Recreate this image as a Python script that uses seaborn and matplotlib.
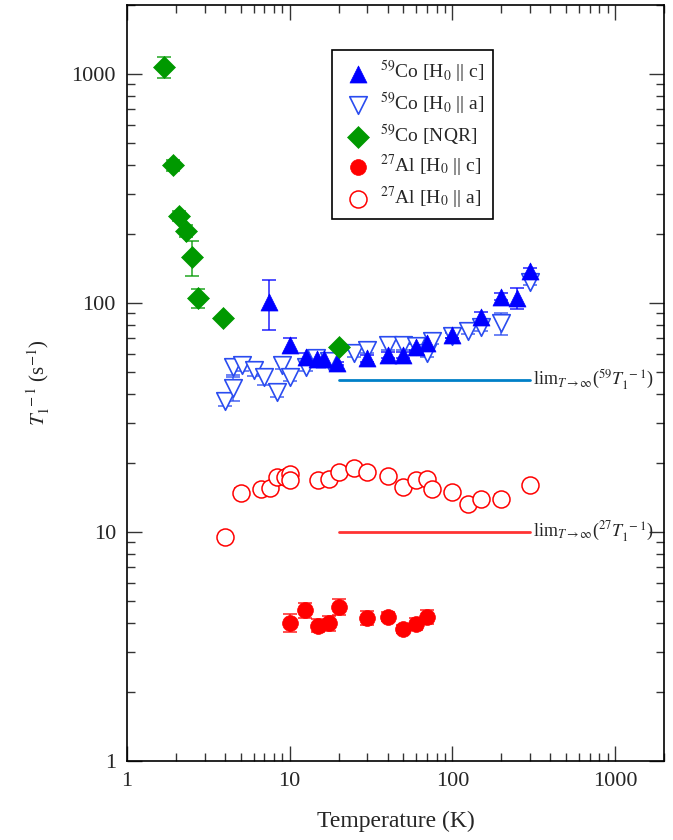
import seaborn as sns
import matplotlib.pyplot as plt
import matplotlib.ticker as mticker
import numpy as np

# 59Co NQR
nqr_T = [1.7, 1.93, 2.1, 2.3, 2.5, 2.75, 3.9, 20]
nqr_R = [1070, 400, 240, 207, 159, 105, 86, 64]
nqr_err = [110, 22, 12, 12, 28, 10, 0, 0]

# 59Co H0 || c
coc_T = [7.5, 10, 12.6, 14.7, 16.2, 19.6, 30, 40, 50, 60, 70, 100, 150, 200, 250, 300]
coc_R = [101, 65.6, 58.3, 56.8, 57, 54.5, 57.3, 59.3, 59.3, 64.4, 66.7, 72.5, 86.6, 106.6, 104.8, 138]
coc_err = [25, 4.5, 2, 1, 1, 1, 2, 2, 2, 2, 2, 2, 5, 4, 11, 4]

# 59Co H0 || a
coa_T = [4.0, 4.5, 4.5, 5.1, 6, 7, 8.3, 9, 10, 12.6, 14.6, 17.5, 25, 30, 40, 50, 60, 70, 75,
         100, 125, 150, 200, 300]
coa_R = [37.4, 42.4, 52.4, 53.6, 51, 47.7, 41, 53.6, 47.7, 52.7, 57.3, 56, 60.3, 62.3, 65.6,
         65.6, 64.6, 60.3, 68.2, 72, 75.5, 78.8, 81.5, 124]
coa_err = [2, 5, 4, 3, 3, 4, 2, 2, 2, 2, 2, 2, 2, 2, 3, 3, 3, 2, 2, 2, 2, 3, 9, 4]

# 27Al H0 || c
alc_T = [10, 12.5, 15, 17.5, 20, 30, 40, 50, 60, 70]
alc_R = [4.02, 4.56, 3.90, 3.99, 4.72, 4.23, 4.27, 3.77, 3.97, 4.27]
alc_err = [0.35, 0.35, 0.25, 0.3, 0.4, 0.3, 0.2, 0.15, 0.25, 0.3]

# 27Al H0 || a
ala_T = [4.0, 5.0, 6.7, 7.6, 8.3, 9.4, 10, 10, 15, 17.5, 20, 25, 30, 40, 50, 60, 70, 75,
         100, 125, 150, 200, 300]
ala_R = [9.48, 14.8, 15.4, 15.5, 17.3, 17.4, 18.0, 16.8, 16.8, 17.1, 18.2, 19.0, 18.2, 17.6,
         15.7, 16.8, 17.0, 15.4, 14.9, 13.3, 13.9, 14.0, 16.0]
ala_err = [0.3, 0.7, 0.6, 0.9, 0.6, 0.6, 0.8, 0.8, 0.7, 0.5, 0.5, 0.6, 0.5, 0.5,
           0.5, 0.5, 0.5, 0.5, 0.4, 0.4, 0.4, 0.6, 0.7]

# high temperature limits
lim_T = [20, 300]
lim_co = 46
lim_al = 10

sns.set_theme(style="ticks")
plt.rcParams['font.family'] = ['Liberation Serif', 'DejaVu Serif']
plt.rcParams['mathtext.fontset'] = 'stix'

fig = plt.figure(figsize=(6.73, 8.4), dpi=100)
ax = fig.add_axes([127/673, 1 - 761/840, 537/673, 756/840])

blue = "#0000ff"
blue_open = "#2a4cf0"
green = "#009900"
red = "#ff0000"

def bars(x, y, e, c):
    ax.errorbar(x, y, yerr=e, fmt='none', ecolor=c, elinewidth=1.2, capsize=5,
                capthick=1.2, alpha=0.8, zorder=2)

bars(coa_T, coa_R, coa_err, blue_open)
bars(coc_T, coc_R, coc_err, blue)
bars(nqr_T, nqr_R, nqr_err, green)
bars(alc_T, alc_R, alc_err, red)
bars(ala_T, ala_R, ala_err, red)

sns.scatterplot(x=coc_T, y=coc_R, marker='^', s=150, color=blue, edgecolor=blue,
                linewidth=0.5, label=r'$^{59}$Co [H$_0$ || c]', ax=ax, zorder=4)
sns.scatterplot(x=coa_T, y=coa_R, marker='v', s=160, facecolor='white', edgecolor=blue_open,
                linewidth=1.2, label=r'$^{59}$Co [H$_0$ || a]', ax=ax, zorder=3)
sns.scatterplot(x=nqr_T, y=nqr_R, marker='D', s=125, color=green, edgecolor=green,
                linewidth=0.5, label=r'$^{59}$Co [NQR]', ax=ax, zorder=5)
sns.scatterplot(x=alc_T, y=alc_R, marker='o', s=130, color=red, edgecolor=red,
                linewidth=0.5, label=r'$^{27}$Al [H$_0$ || c]', ax=ax, zorder=4)
sns.scatterplot(x=ala_T, y=ala_R, marker='o', s=150, facecolor='white', edgecolor=red,
                linewidth=1.1, label=r'$^{27}$Al [H$_0$ || a]', ax=ax, zorder=3)

ax.plot(lim_T, [lim_co, lim_co], color="#0080c8", lw=2)
ax.plot(lim_T, [lim_al, lim_al], color="#ff3333", lw=2)
ax.text(315, lim_co, r'lim$_{T\rightarrow\infty}$($^{59}$$T_1^{\ -1}$)', fontsize=13,
        va='center', ha='left')
ax.text(315, lim_al, r'lim$_{T\rightarrow\infty}$($^{27}$$T_1^{\ -1}$)', fontsize=13,
        va='center', ha='left')

ax.set_xscale('log')
ax.set_yscale('log')
ax.set_xlim(1, 2000)
ax.set_ylim(1, 2000)
fmt = mticker.FuncFormatter(lambda v, _: f'{v:g}')
ax.xaxis.set_major_formatter(fmt)
ax.yaxis.set_major_formatter(fmt)
ax.xaxis.set_minor_formatter(mticker.NullFormatter())
ax.yaxis.set_minor_formatter(mticker.NullFormatter())
ax.tick_params(which='both', direction='in', top=True, right=True, width=1, color='#333333')
ax.tick_params(which='major', length=11, labelsize=16, pad=8)
ax.tick_params(which='minor', length=5.5)
for sp in ax.spines.values():
    sp.set_color('black')
    sp.set_linewidth(1.2)

ax.set_xlabel('Temperature (K)', fontsize=17, labelpad=14)
ax.set_ylabel(r'$T_1^{\ -1}$ (s$^{-1}$)', fontsize=15, labelpad=14)

leg = ax.legend(loc='upper left', bbox_to_anchor=(0.382, 0.94), borderaxespad=0,
                fontsize=14, fancybox=False, framealpha=1, edgecolor='black',
                labelspacing=0.28, handletextpad=0.2, handlelength=1.8, borderpad=0.45)
leg.get_frame().set_linewidth(1.2)

fig.savefig('out.png', dpi=100)
